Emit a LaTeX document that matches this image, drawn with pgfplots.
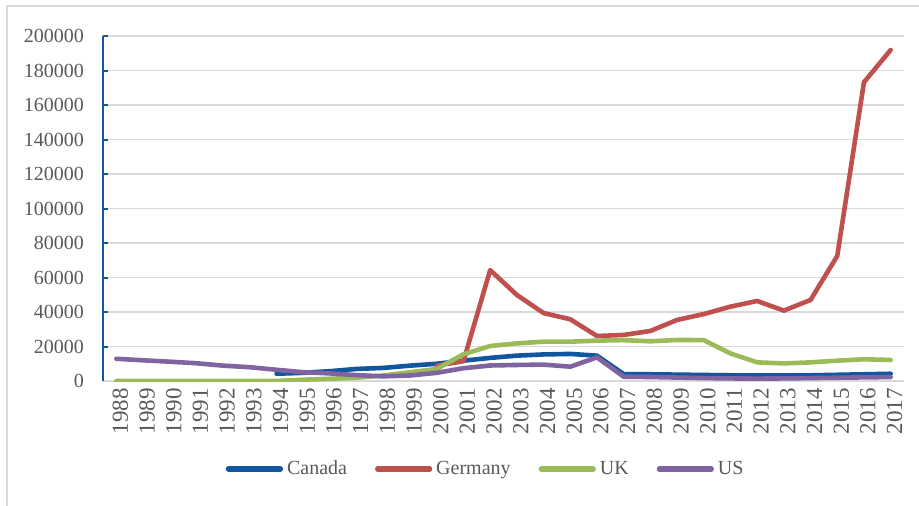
\documentclass[border=0pt]{standalone}
\usepackage{pgfplots}
\pgfplotsset{compat=1.18}
\usepackage{fontspec}
\setmainfont{Liberation Serif}
\definecolor{cCan}{RGB}{16,86,160}
\definecolor{cGer}{RGB}{192,80,77}
\definecolor{cUK}{RGB}{155,187,89}
\definecolor{cUS}{RGB}{128,100,162}
\definecolor{gridc}{RGB}{217,217,217}
\definecolor{txt}{RGB}{89,89,89}
\begin{document}
\begin{tikzpicture}[x=0.5pt,y=0.5pt]
\useasboundingbox (0,0) rectangle (919,505);
\draw[gridc, line width=1pt] (7,-10) -- (7,499) -- (930,499);
\begin{axis}[at={(51.5pt,62pt)}, anchor=south west, scale only axis,
  width=400.5pt, height=172.5pt,
  xmin=-0.5, xmax=29.5, ymin=0, ymax=200000,
  xtick={0,...,29},
  xticklabel={\pgfmathparse{int(\tick+1988)}\pgfmathresult},
  ytick={0,20000,...,200000},
  scaled y ticks=false,
  /pgf/number format/fixed, /pgf/number format/1000 sep={},
  /pgf/number format/assume math mode=true,
  axis x line*=bottom, axis y line*=left,
  x axis line style={gridc, line width=1pt, -},
  y axis line style={cCan, line width=1pt, -},
  ymajorgrids, grid style={gridc, line width=0.8pt},
  major tick length=2.5pt, tick align=inside,
  ytick style={cCan, line width=1pt}, xtick style={draw=none},
  tick label style={text=txt},
  yticklabel style={font=\fontsize{10}{12}\selectfont, xshift=-6pt},
  xticklabel style={font=\fontsize{11.5}{13}\selectfont, rotate=90, anchor=east, yshift=-2pt},
  legend columns=4,
  legend style={at={(0.479,-0.255)}, anchor=center, draw=none, fill=none,
    font=\fontsize{10}{12}\selectfont, text=txt, inner sep=0pt,
    /tikz/every even column/.append style={column sep=12pt}},
  legend image code/.code={\draw[line width=2.6pt, line cap=round] (0pt,0pt) -- (26pt,0pt);},
  every axis plot/.append style={line width=2.3pt, line join=round, line cap=round, mark=none},
]
\addplot[cCan] coordinates {(6,4200)(7,4750)(8,5700)(9,7000)(10,7600)(11,8900)(12,10000)(13,11800)(14,13400)(15,14700)(16,15400)(17,15700)(18,14700)(19,4000)(20,3900)(21,3700)(22,3500)(23,3300)(24,3200)(25,3200)(26,3300)(27,3600)(28,3900)(29,4200)};
\addlegendentry{Canada}
\addplot[cGer] coordinates {(12,8900)(13,11500)(14,64300)(15,49900)(16,39400)(17,35800)(18,26100)(19,26700)(20,29000)(21,35400)(22,38800)(23,43100)(24,46400)(25,40800)(26,47000)(27,72500)(28,173200)(29,191900)};
\addlegendentry{Germany}
\addplot[cUK] coordinates {(0,0)(1,0)(2,0)(3,0)(4,0)(5,0)(6,0)(7,760)(8,1300)(9,1900)(10,3200)(11,5100)(12,7000)(13,15500)(14,20300)(15,21800)(16,22800)(17,22800)(18,23400)(19,23700)(20,23000)(21,23800)(22,23700)(23,16000)(24,10800)(25,10200)(26,10800)(27,11800)(28,12600)(29,12200)};
\addlegendentry{UK}
\addplot[cUS] coordinates {(0,12900)(1,12000)(2,11200)(3,10300)(4,8900)(5,8000)(6,6500)(7,5100)(8,4400)(9,3400)(10,2700)(11,3200)(12,4750)(13,7400)(14,9000)(15,9300)(16,9500)(17,8300)(18,13700)(19,2500)(20,2300)(21,2000)(22,1700)(23,1500)(24,1400)(25,1500)(26,1700)(27,1900)(28,2100)(29,2300)};
\addlegendentry{US}
\end{axis}
\end{tikzpicture}
\end{document}
